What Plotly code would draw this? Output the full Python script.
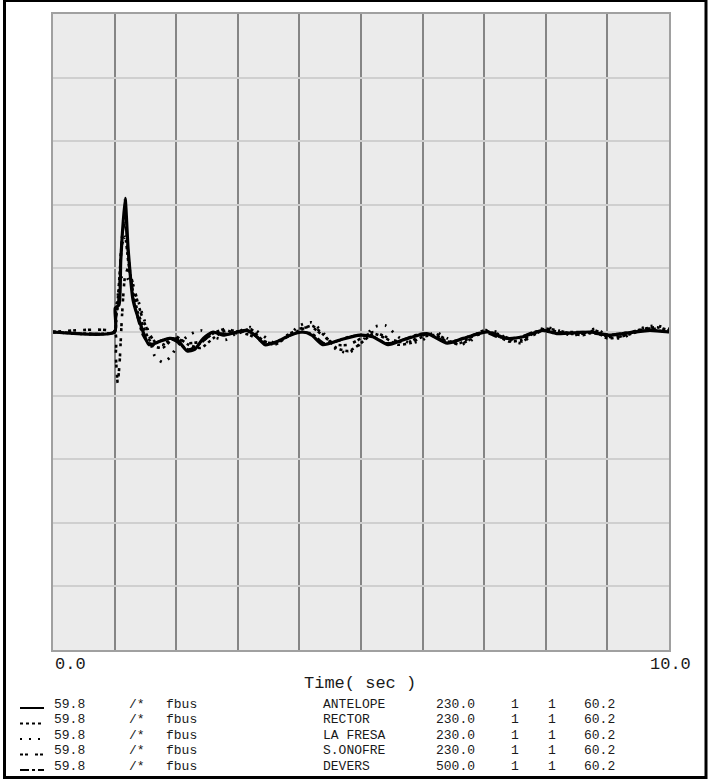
import plotly.graph_objects as go

# ---------------- data ----------------
t_antelope = [0.0, 1.0, 1.01, 1.07, 1.10, 1.17, 1.22, 1.30, 1.41, 1.56, 1.73, 1.89, 2.02, 2.18, 2.30,
              2.44, 2.60, 2.76, 2.98, 3.15, 3.31, 3.44, 3.64, 3.85, 4.06, 4.20, 4.38, 4.66, 4.98, 5.19,
              5.44, 5.68, 6.07, 6.40, 6.66, 7.05, 7.37, 7.63, 7.95, 8.18, 8.72, 9.04, 9.25, 9.69, 10.0]
f_antelope = [60.0, 60.0, 60.015, 60.017, 60.045, 60.084, 60.052, 60.020, 60.006, 59.992, 59.994, 59.996,
              59.995, 59.988, 59.989, 59.996, 60.000, 59.998, 60.000, 60.001, 59.997, 59.992, 59.994,
              59.998, 60.000, 59.998, 59.992, 59.995, 59.998, 59.997, 59.992, 59.995, 59.999, 59.993,
              59.996, 60.000, 59.996, 59.997, 60.001, 59.999, 60.000, 59.998, 59.999, 60.001, 60.0]

t_other = [0.0, 1.0, 1.02, 1.05, 1.08, 1.12, 1.17, 1.22, 1.30, 1.38, 1.46, 1.55, 1.65, 1.78, 1.90, 2.0,
           2.2, 2.4, 2.6, 2.8, 3.0, 3.2, 3.4, 3.6, 3.8, 4.0, 4.2, 4.4, 4.6, 4.8, 5.0, 5.2, 5.4, 5.6, 5.8,
           6.0, 6.2, 6.4, 6.6, 6.8, 7.0, 7.2, 7.4, 7.6, 7.8, 8.0, 8.2, 8.4, 8.6, 8.8, 9.0, 9.2, 9.4, 9.6,
           9.8, 10.0]

f_rector = [60.0, 60.0, 60.010, 60.020, 60.035, 60.055, 60.060, 60.045, 60.025, 60.012, 60.004, 59.996,
            59.991, 59.990, 59.994, 59.997, 59.992, 59.990, 59.996, 60.001, 59.999, 60.002, 59.995, 59.992,
            59.997, 60.001, 60.004, 59.998, 59.990, 59.988, 59.993, 59.999, 59.996, 59.992, 59.993, 59.997,
            59.998, 59.994, 59.993, 59.997, 60.001, 59.998, 59.994, 59.995, 59.999, 60.002, 60.000, 59.999,
            59.998, 60.000, 59.996, 59.997, 59.999, 60.002, 60.003, 60.001]

f_lafresa = [60.0, 60.0, 60.012, 60.022, 60.030, 60.035, 60.036, 60.033, 60.027, 60.020, 60.010, 60.000,
             59.985, 59.981, 59.984, 59.990, 59.998, 60.001, 59.997, 59.995, 60.000, 60.003, 59.998, 59.993,
             59.997, 60.004, 60.006, 59.999, 59.989, 59.987, 59.993, 60.003, 60.004, 59.997, 59.993, 59.995,
             60.000, 59.996, 59.992, 59.995, 60.001, 60.000, 59.995, 59.993, 59.999, 60.003, 60.001, 59.998,
             59.999, 60.002, 59.998, 59.996, 59.999, 60.003, 60.004, 60.002]

f_sonofre = [60.0, 60.0, 59.985, 59.968, 59.980, 60.010, 60.035, 60.040, 60.030, 60.018, 60.008, 60.000,
             59.994, 59.992, 59.995, 59.996, 59.993, 59.994, 59.999, 60.002, 60.000, 59.998, 59.994, 59.993,
             59.998, 60.002, 60.003, 59.997, 59.992, 59.992, 59.996, 60.000, 59.997, 59.994, 59.994, 59.998,
             59.999, 59.995, 59.992, 59.996, 60.000, 59.999, 59.996, 59.994, 59.998, 60.002, 60.001, 59.999,
             59.999, 60.001, 59.997, 59.997, 60.000, 60.002, 60.002, 60.001]

f_devers = [60.0, 60.0, 60.008, 60.015, 60.030, 60.060, 60.070, 60.050, 60.022, 60.008, 59.998, 59.993,
            59.993, 59.995, 59.996, 59.994, 59.989, 59.993, 59.999, 59.999, 60.000, 60.000, 59.994, 59.993,
            59.997, 60.000, 59.999, 59.993, 59.994, 59.997, 59.998, 59.997, 59.993, 59.994, 59.997, 59.999,
            59.997, 59.994, 59.995, 59.998, 60.000, 59.997, 59.996, 59.997, 60.000, 60.001, 59.999, 60.000,
            60.000, 59.999, 59.998, 59.999, 60.000, 60.001, 60.001, 60.000]

legend_rows = [
    ["59.8", "/*", "fbus", "ANTELOPE", "230.0", "1", "1", "60.2"],
    ["59.8", "/*", "fbus", "RECTOR", "230.0", "1", "1", "60.2"],
    ["59.8", "/*", "fbus", "LA FRESA", "230.0", "1", "1", "60.2"],
    ["59.8", "/*", "fbus", "S.ONOFRE", "230.0", "1", "1", "60.2"],
    ["59.8", "/*", "fbus", "DEVERS", "500.0", "1", "1", "60.2"],
]
x_ticks_text = ["0.0", "10.0"]
x_title = "Time( sec )"

# ---------------- figure ----------------
W, H = 713, 779
L, R, T, B = 53, 669, 14, 650
PW, PH = R - L, B - T


def px(x):
    return (x - L) / PW


def py(y):
    return (B - y) / PH


dashes = ["solid", "dot", "2px,7px", "3px,2px,3px,7px", "dashdot"]
widths = [3.2, 2.6, 2.8, 2.6, 2.4]
series = [
    (t_antelope, f_antelope, "ANTELOPE"),
    (t_other, f_rector, "RECTOR"),
    (t_other, f_lafresa, "LA FRESA"),
    (t_other, f_sonofre, "S.ONOFRE"),
    (t_other, f_devers, "DEVERS"),
]

fig = go.Figure()
for (tx, fy, name), d, w in zip(series, dashes, widths):
    fig.add_trace(go.Scatter(x=tx, y=fy, mode="lines", name=name,
                             line=dict(color="black", width=w, dash=d, shape="spline", smoothing=0.6)))

fig.update_layout(
    width=W, height=H,
    margin=dict(l=L, r=W - R, t=T, b=H - B, pad=0),
    paper_bgcolor="white",
    plot_bgcolor="#ebebeb",
    showlegend=False,
    xaxis=dict(range=[0, 10], dtick=1, showgrid=True, gridcolor="#858585", gridwidth=1.6,
               showticklabels=False, ticks="", zeroline=False,
               showline=True, mirror=True, linecolor="#a0a0a0", linewidth=1.5),
    yaxis=dict(range=[59.8, 60.2], dtick=0.04, tick0=59.8, showgrid=True, gridcolor="#cfcfcf",
               gridwidth=1.6, showticklabels=False, ticks="", zeroline=False,
               showline=True, mirror=True, linecolor="#a0a0a0", linewidth=1.5),
)

font = dict(family="Liberation Mono, Courier New, monospace", color="#1a1a1a")
ann = []
ann.append(dict(x=px(53), y=py(664), xref="paper", yref="paper", text=x_ticks_text[0],
                showarrow=False, xanchor="left", yanchor="middle", font=dict(size=17, **font)))
ann.append(dict(x=px(670), y=py(664), xref="paper", yref="paper", text=x_ticks_text[1],
                showarrow=False, xanchor="center", yanchor="middle", font=dict(size=17, **font)))
ann.append(dict(x=px(360), y=py(683), xref="paper", yref="paper", text=x_title,
                showarrow=False, xanchor="center", yanchor="middle", font=dict(size=17, **font)))

col_x = [53, 128, 165, 322, 435, 510, 547, 583]
row_y = [704, 719.5, 735, 750.5, 766]
for row, yv in zip(legend_rows, row_y):
    for txt, xv in zip(row, col_x):
        ann.append(dict(x=px(xv), y=py(yv), xref="paper", yref="paper", text=txt,
                        showarrow=False, xanchor="left", yanchor="middle", borderpad=0,
                        font=dict(size=13, **font)))
fig.update_layout(annotations=ann)

shapes = []
# legend line samples
for i, (d, yv) in enumerate(zip(dashes, row_y)):
    shapes.append(dict(type="line", xref="paper", yref="paper",
                       x0=px(20), x1=px(44), y0=py(yv + 4), y1=py(yv + 4),
                       line=dict(color="black", width=2, dash=d)))
# outer frame
shapes.append(dict(type="rect", xref="paper", yref="paper",
                   x0=px(4.5), x1=px(706), y0=py(777.5), y1=py(0.5),
                   line=dict(color="black", width=3), fillcolor="rgba(0,0,0,0)"))
fig.update_layout(shapes=shapes)

fig.write_html("out.html", config={"displayModeBar": False},
               post_script="document.body.style.margin='0';")
